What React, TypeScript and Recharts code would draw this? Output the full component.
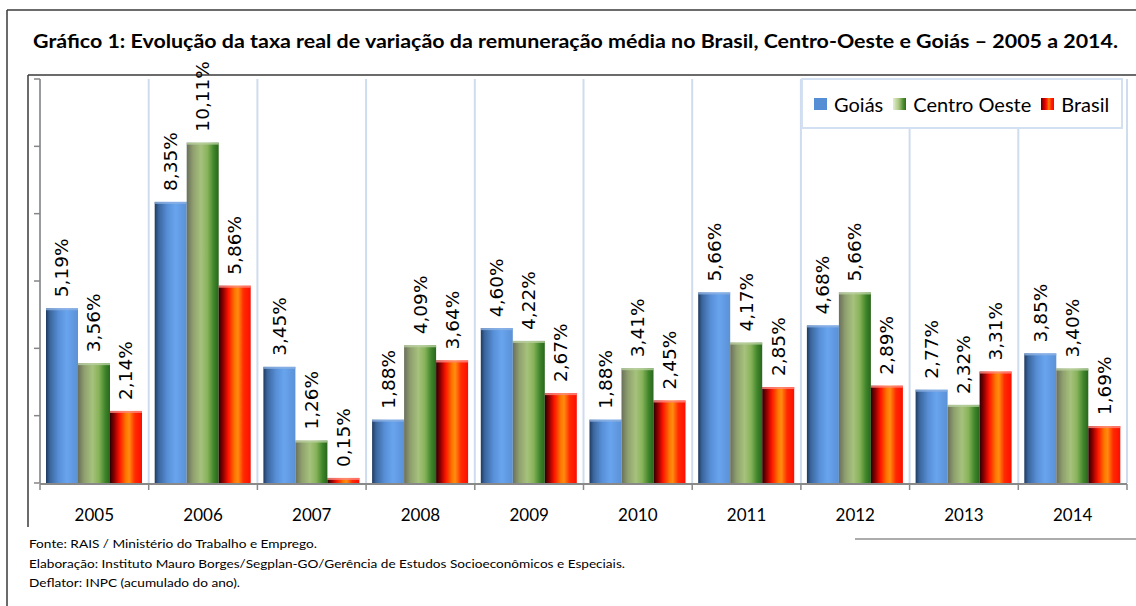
import React from 'react';
import {
  BarChart,
  Bar,
  XAxis,
  YAxis,
  CartesianGrid,
  Legend,
  LabelList
} from 'recharts';

// values (percent)
const years = ['2005', '2006', '2007', '2008', '2009', '2010', '2011', '2012', '2013', '2014'];
const goias = [5.19, 8.35, 3.45, 1.88, 4.6, 1.88, 5.66, 4.68, 2.77, 3.85];
const centroOeste = [3.56, 10.11, 1.26, 4.09, 4.22, 3.41, 4.17, 5.66, 2.32, 3.4];
const brasil = [2.14, 5.86, 0.15, 3.64, 2.67, 2.45, 2.85, 2.89, 3.31, 1.69];
const yTicks = [0, 2, 4, 6, 8, 10, 12];
const edgeTicks = [0, 1, 2, 3, 4, 5, 6, 7, 8, 9, 10];
const seriesOrder = ['goias', 'centroOeste', 'brasil'];

const title = 'Gráfico 1: Evolução da taxa real de variação da remuneração média no Brasil, Centro-Oeste e Goiás – 2005 a 2014.';
const notes = [
  'Fonte: RAIS / Ministério do Trabalho e Emprego.',
  'Elaboração: Instituto Mauro Borges/Segplan-GO/Gerência de Estudos Socioeconômicos e Especiais.',
  'Deflator: INPC (acumulado do ano).'
];

const data = years.map((year, i) => ({
  year,
  edge: i + 0.5,
  goias: goias[i],
  centroOeste: centroOeste[i],
  brasil: brasil[i]
}));

const FONT = 'Lato, "Open Sans", sans-serif';

const fmt = (v: number) => v.toFixed(2).replace('.', ',') + '%';

const ValueLabel = (props: any) => {
  const { x, y, width, value } = props;
  const cx = Number(x) + Number(width) / 2;
  const ty = Number(y) - 11;
  return (
    <text
      x={cx}
      y={ty}
      transform={`rotate(-90 ${cx} ${ty})`}
      textAnchor="start"
      dominantBaseline="central"
      fontFamily='"DejaVu Sans", Verdana, sans-serif'
      fontSize={18.5}
      fill="#000"
    >
      {fmt(Number(value))}
    </text>
  );
};

const barShape = (fill: string, edge: string) => (props: any) => {
  const { x, y, width, height } = props;
  if (!height || height <= 0) return <g />;
  return (
    <g>
      <rect x={x} y={y} width={width} height={height} fill={fill} />
      <rect x={x} y={y} width={width} height={Math.min(2, height)} fill={edge} opacity={0.8} />
    </g>
  );
};

const YearTick = (props: any) => {
  const { x, y, payload } = props;
  return (
    <text x={x} y={y + 38} textAnchor="middle" fontFamily={FONT} fontSize={17} fill="#000">
      {payload.value}
    </text>
  );
};

const swatches: Record<string, string> = {
  goias: '#558ed5',
  centroOeste: 'linear-gradient(to right, #e4eed4, #a9c77f 45%, #4b8a2e 80%, #2f6b1c)',
  brasil: 'linear-gradient(to right, #5a0000, #e00000 30%, #ff2000 45%, #ff8000 60%, #ff2000 80%, #ff0000)'
};

const LegendBox = (props: any) => {
  const items = [...(props.payload || [])].sort(
    (a: any, b: any) => seriesOrder.indexOf(a.dataKey) - seriesOrder.indexOf(b.dataKey)
  );
  return (
    <div
      style={{
        boxSizing: 'border-box',
        width: 322,
        height: 51,
        background: '#fff',
        border: '2px solid #d3e0f1',
        display: 'flex',
        alignItems: 'center',
        paddingLeft: 11,
        fontFamily: FONT,
        fontSize: 20,
        color: '#000',
        whiteSpace: 'nowrap',
        overflow: 'visible'
      }}
    >
      {items.map((entry: any) => (
        <div
          key={entry.dataKey}
          style={{ display: 'flex', alignItems: 'center', marginRight: 10, flexShrink: 0 }}
        >
          <span
            style={{
              display: 'inline-block',
              width: 13,
              height: 12,
              background: swatches[entry.dataKey],
              marginRight: 7
            }}
          />
          <span>{entry.value}</span>
        </div>
      ))}
    </div>
  );
};

const App: React.FC = () => {
  return (
    <div
      style={{
        position: 'absolute',
        left: 0,
        top: 0,
        width: 1136,
        height: 606,
        background: '#fff',
        overflow: 'hidden'
      }}
    >
      <svg width={1136} height={606} style={{ position: 'absolute', left: 0, top: 0 }}>
        <line x1={7} y1={10} x2={1136} y2={10} stroke="#3a3a3a" strokeWidth={1.5} />
        <line x1={7} y1={10} x2={7} y2={606} stroke="#3a3a3a" strokeWidth={1.5} />
        <line x1={28} y1={75} x2={1136} y2={75} stroke="#3a3a3a" strokeWidth={1.5} />
        <line x1={28} y1={75} x2={28} y2={527} stroke="#3a3a3a" strokeWidth={1.5} />
        <line x1={855} y1={539} x2={1136} y2={539} stroke="#5a5a5a" strokeWidth={1.2} />
        <text
          x={33}
          y={48}
          fontFamily={FONT}
          fontWeight={700}
          fontSize={19.5}
          textLength={1085}
          lengthAdjust="spacingAndGlyphs"
          fill="#000"
        >
          {title}
        </text>
        {notes.map((n, i) => (
          <text
            key={i}
            x={29}
            y={548 + i * 19.5}
            fontFamily={FONT}
            fontSize={12}
            textLength={[288, 596, 211][i]}
            lengthAdjust="spacingAndGlyphs"
            fill="#000"
          >
            {n}
          </text>
        ))}
      </svg>
      <div style={{ position: 'absolute', left: 0, top: 0 }}>
        <BarChart
          width={1136}
          height={606}
          data={data}
          margin={{ top: 79, right: 9, left: 39, bottom: 121 }}
          barCategoryGap={6}
          barGap={0}
        >
          <defs>
            <linearGradient id="gBlue" x1="0" y1="0" x2="1" y2="0">
              <stop offset="0%" stopColor="#1f3a60" />
              <stop offset="12%" stopColor="#3a659c" />
              <stop offset="40%" stopColor="#5890d8" />
              <stop offset="65%" stopColor="#68a4ee" />
              <stop offset="100%" stopColor="#5b91d6" />
            </linearGradient>
            <linearGradient id="gGreen" x1="0" y1="0" x2="1" y2="0">
              <stop offset="0%" stopColor="#6a6f5c" />
              <stop offset="20%" stopColor="#8fa06e" />
              <stop offset="45%" stopColor="#a6c27c" />
              <stop offset="65%" stopColor="#88b35a" />
              <stop offset="85%" stopColor="#3e8429" />
              <stop offset="100%" stopColor="#29661c" />
            </linearGradient>
            <linearGradient id="gRed" x1="0" y1="0" x2="1" y2="0">
              <stop offset="0%" stopColor="#2a0000" />
              <stop offset="14%" stopColor="#900000" />
              <stop offset="30%" stopColor="#ff1400" />
              <stop offset="50%" stopColor="#ff7800" />
              <stop offset="60%" stopColor="#ff8c10" />
              <stop offset="78%" stopColor="#ff2a00" />
              <stop offset="100%" stopColor="#ff0c00" />
            </linearGradient>
          </defs>
          <CartesianGrid
            xAxisId="grid"
            horizontal={false}
            vertical={true}
            stroke="#cfdcef"
            strokeWidth={2}
          />
          <XAxis
            xAxisId="grid"
            dataKey="edge"
            type="number"
            domain={[0, 10]}
            ticks={edgeTicks}
            height={1}
            tick={() => <g />}
            tickSize={6}
            axisLine={{ stroke: '#898989', strokeWidth: 2 }}
            tickLine={{ stroke: '#898989', strokeWidth: 1.5 }}
          />
          <XAxis
            xAxisId="cat"
            dataKey="year"
            height={1}
            axisLine={false}
            tickLine={false}
            tickSize={0}
            tickMargin={0}
            tick={<YearTick />}
            interval={0}
          />
          <YAxis
            width={1}
            domain={[0, 12]}
            ticks={yTicks}
            tick={() => <g />}
            tickSize={6}
            axisLine={{ stroke: '#868686', strokeWidth: 1.5 }}
            tickLine={{ stroke: '#868686', strokeWidth: 1.5 }}
          />
          <Legend
            layout="horizontal"
            verticalAlign="middle"
            align="center"
            content={<LegendBox />}
            wrapperStyle={{ left: 801, top: 78, right: 'auto', bottom: 'auto', width: 322, height: 51 }}
          />
          <Bar
            xAxisId="cat"
            dataKey="goias"
            name="Goiás"
            fill="url(#gBlue)"
            shape={barShape('url(#gBlue)', '#8cb2e4')}
            isAnimationActive={false}
          >
            <LabelList dataKey="goias" content={<ValueLabel />} />
          </Bar>
          <Bar
            xAxisId="cat"
            dataKey="centroOeste"
            name="Centro Oeste"
            fill="url(#gGreen)"
            shape={barShape('url(#gGreen)', '#b9cfa0')}
            isAnimationActive={false}
          >
            <LabelList dataKey="centroOeste" content={<ValueLabel />} />
          </Bar>
          <Bar
            xAxisId="cat"
            dataKey="brasil"
            name="Brasil"
            fill="url(#gRed)"
            shape={barShape('url(#gRed)', '#ff8a80')}
            isAnimationActive={false}
          >
            <LabelList dataKey="brasil" content={<ValueLabel />} />
          </Bar>
        </BarChart>
      </div>
    </div>
  );
};

export default App;
